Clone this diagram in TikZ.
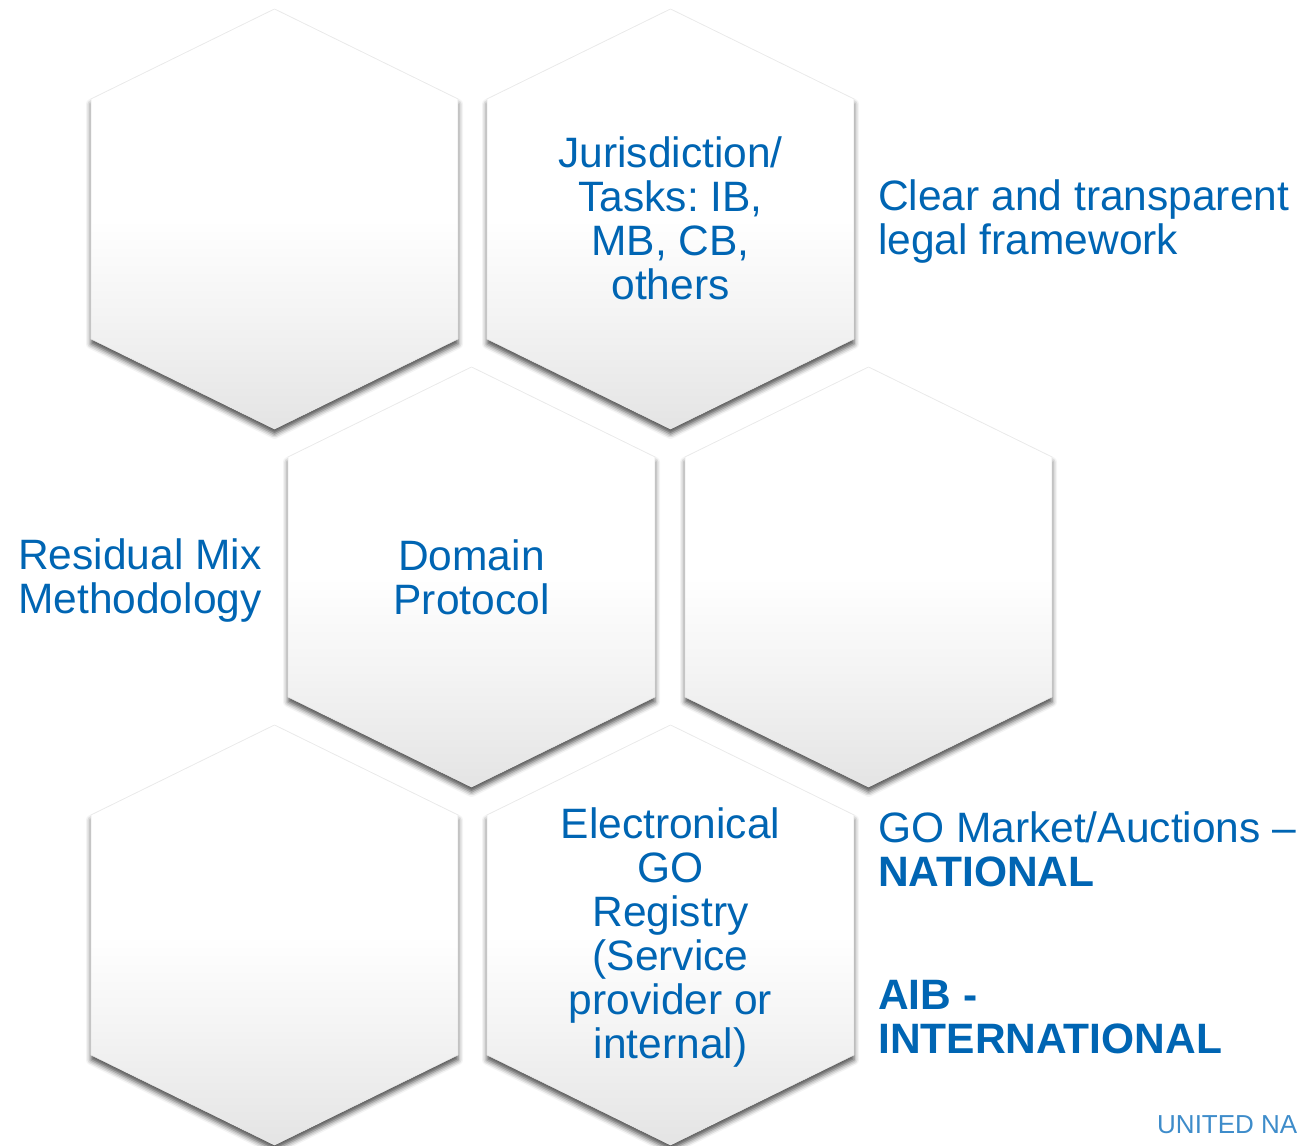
\documentclass[tikz,border=0pt]{standalone}
\usepackage{fontspec}
\setmainfont{Liberation Sans}
\usetikzlibrary{shadows.blur}
\definecolor{txtblue}{RGB}{0,101,179}
\definecolor{unblue}{RGB}{62,140,202}
\definecolor{hexgray}{RGB}{228,228,228}
\definecolor{hexmid}{RGB}{244,244,244}
\pgfdeclareverticalshading{hexshade}{100bp}{color(0bp)=(hexgray); color(25bp)=(hexgray); color(39bp)=(hexmid); color(50bp)=(white); color(100bp)=(white)}
\newcommand\myhex[2]{%
  \path[hexbox] (#1,#2) -- (#1+183.5,#2+90) -- (#1+183.5,#2+330) -- (#1,#2+420)
     -- (#1-183.5,#2+330) -- (#1-183.5,#2+90) -- cycle;}
\tikzset{
  hexbox/.style={shading=hexshade, draw=black!9, line width=0.6pt,
    blur shadow={shadow xshift=0pt, shadow yshift=-5pt, shadow blur radius=5pt, shadow opacity=70}},
  lbl/.style={text=txtblue, inner sep=0pt, align=center, font=\fontsize{42.5}{44}\selectfont},
  side/.style={lbl, anchor=west, align=left},
}
\frenchspacing
\begin{document}
\begin{tikzpicture}[x=1pt, y=-1pt]
\useasboundingbox (0,0) rectangle (1304,1146);
\begin{scope}
\clip (0,0) rectangle (1304,1146);
% hexagons
\myhex{274.5}{9}
\myhex{670.5}{9}
\myhex{471.5}{367}
\myhex{868.5}{367}
\myhex{274.5}{725}
\myhex{670.5}{725}
\end{scope}
% texts in hexagons
\node[lbl] (jur) at (670.5,218) {\frenchspacing Jurisdiction/\\Tasks: IB,\\MB, CB,\\others};
\node[lbl] (dom) at (471.5,577) {Domain\\Protocol};
\node[lbl] (reg) at (670.5,937) {Electronical\\GO\\Registry\\(Service\\provider or\\internal)};
% side texts
\node[side] (rmm) at (18,581) {Residual Mix\\Methodology};
\node[side] (leg) at (878,221.5) {Clear and transparent\\legal framework};
\node[side] (nat) at (878,849.5) {GO Market/Auctions –\\\textbf{NATIONAL}};
\node[side] (intl) at (878,1017) {\textbf{AIB -}\\\textbf{INTERNATIONAL}};
\node[text=unblue, inner sep=0pt, anchor=base west, font=\fontsize{26}{28}\selectfont] (un) at (1157,1133) {UNITED NA};
\end{tikzpicture}
\end{document}
